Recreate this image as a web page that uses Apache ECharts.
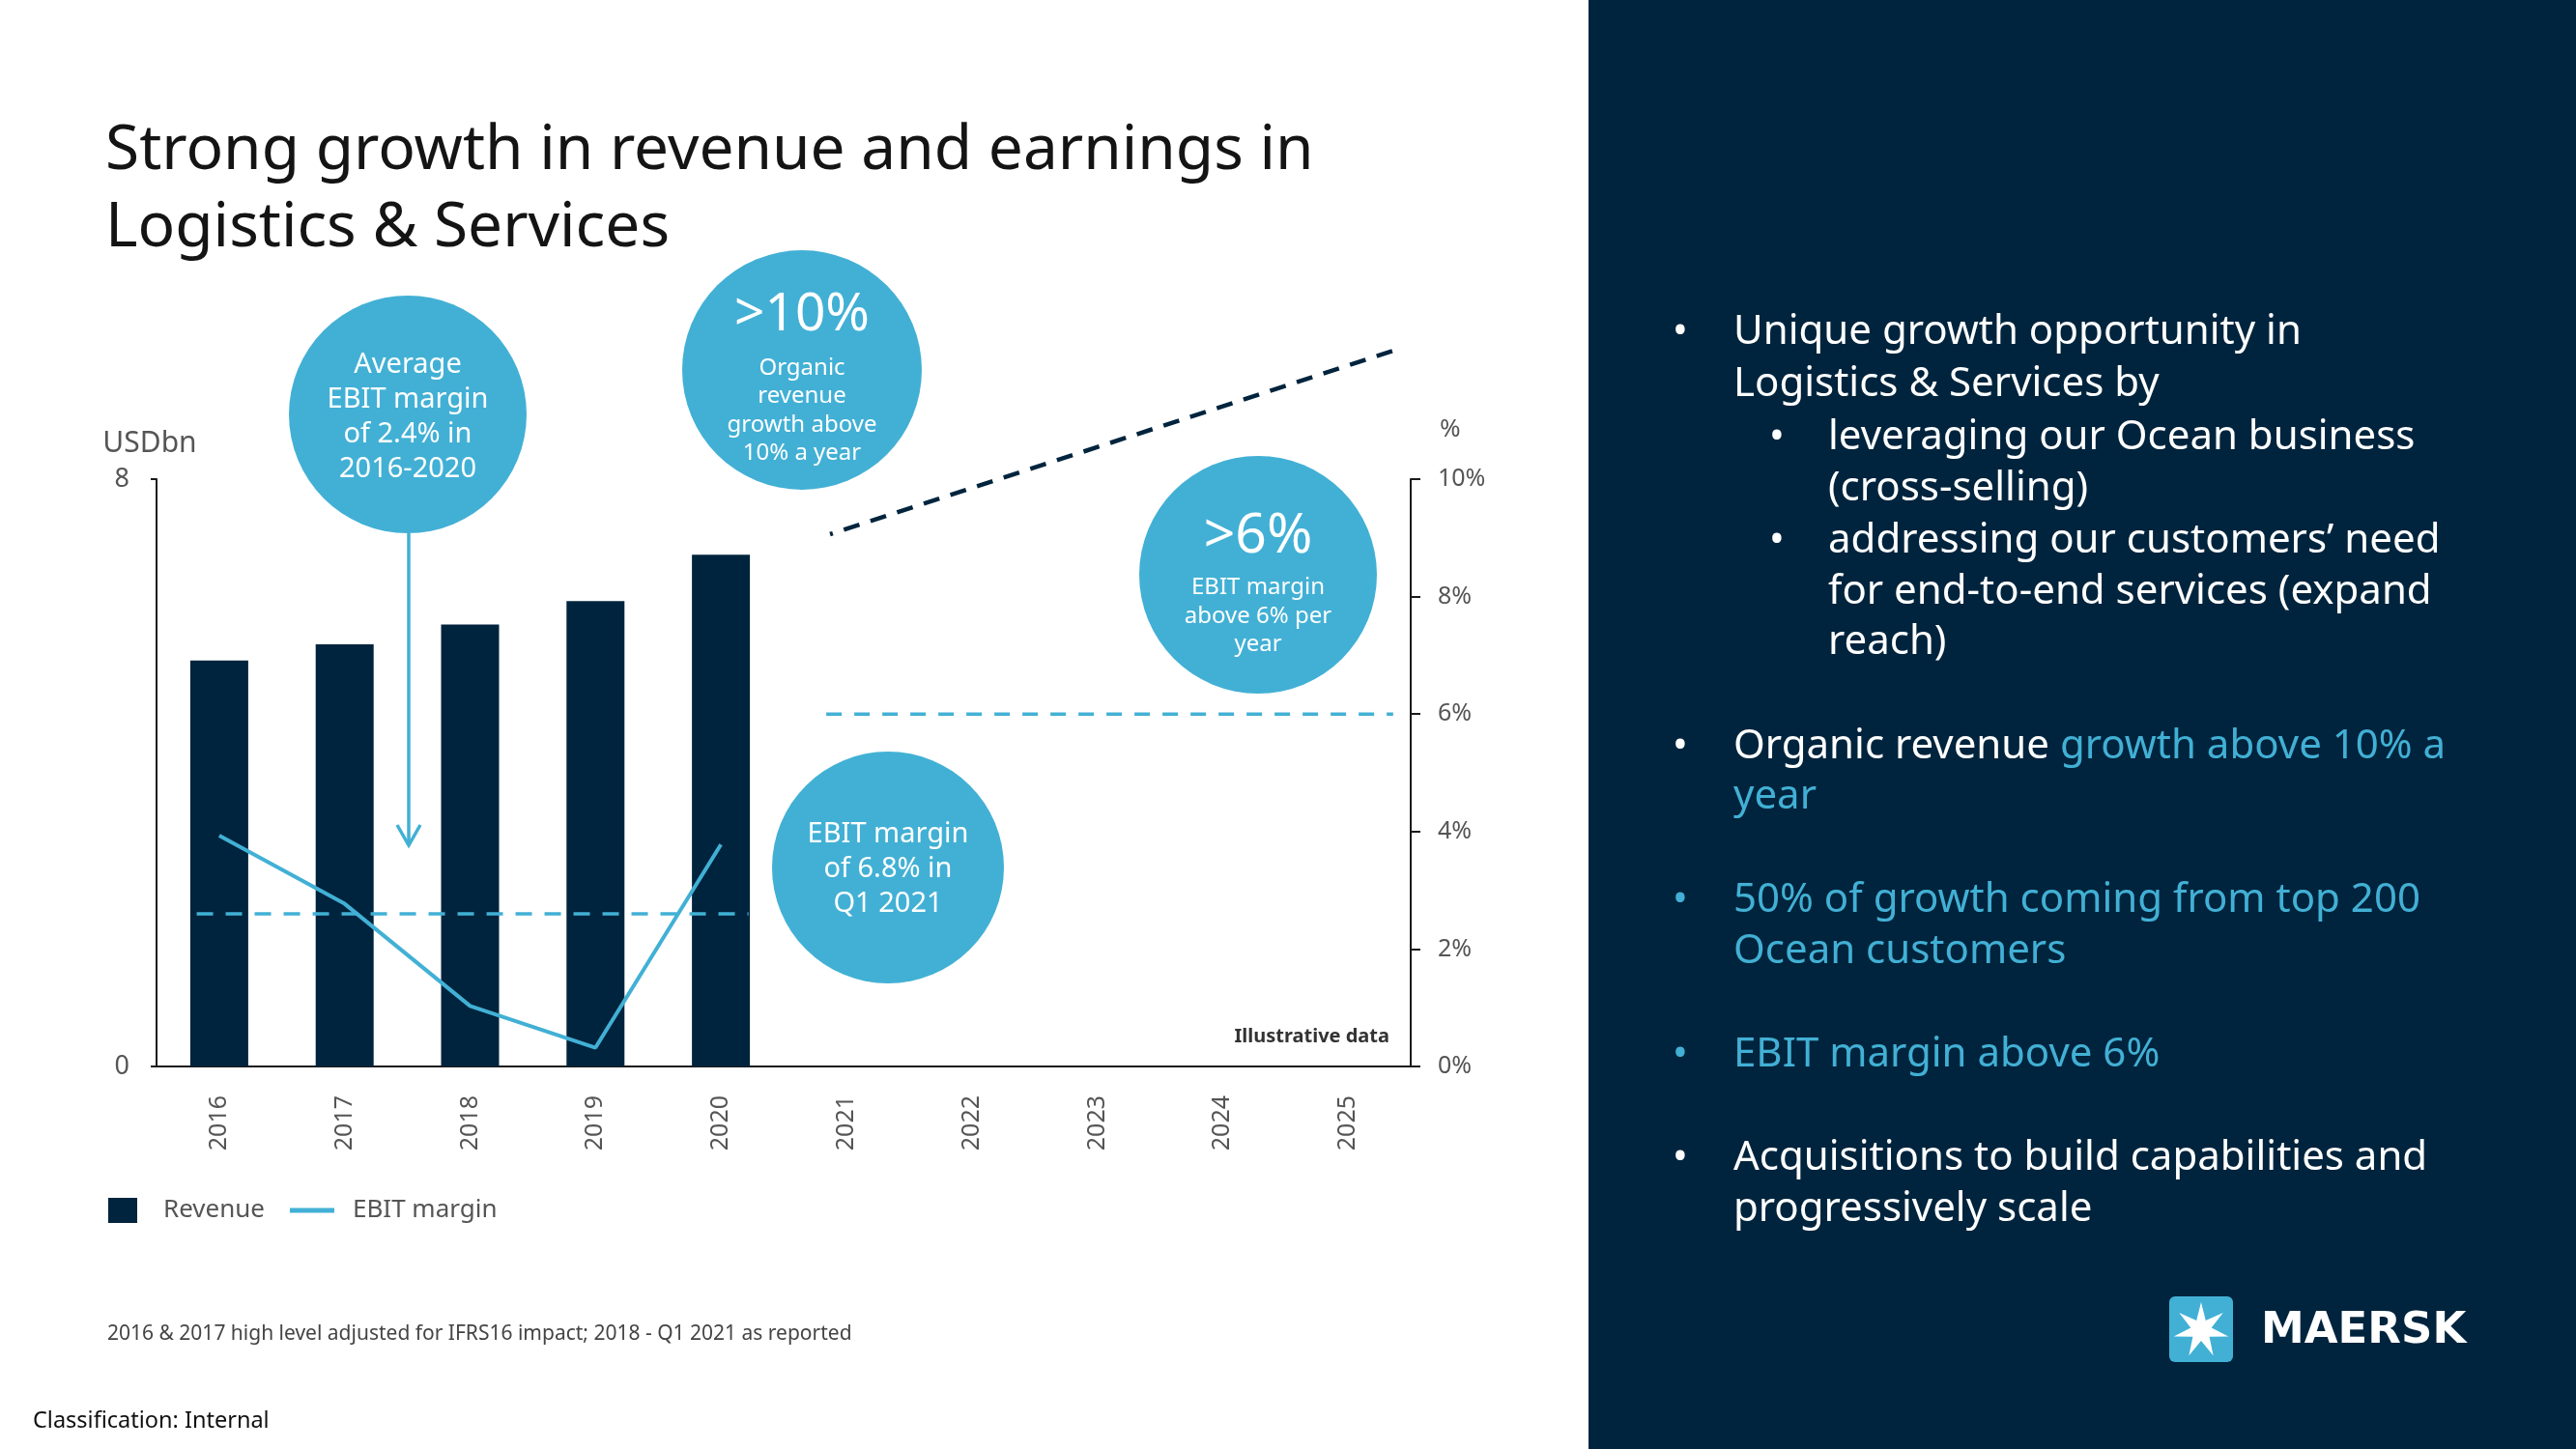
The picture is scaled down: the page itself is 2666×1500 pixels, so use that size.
<!DOCTYPE html>
<html><head><meta charset="utf-8">
<script src="https://cdn.jsdelivr.net/npm/echarts@6/dist/echarts.min.js"></script>
<style>html,body{margin:0;padding:0;background:#fff}#c{width:2666px;height:1500px}</style>
</head><body><div id="c"></div>
<script>
// ---- data ----
const years = ['2016','2017','2018','2019','2020','2021','2022','2023','2024','2025'];
const revenue = [5.53, 5.75, 6.02, 6.34, 6.97];          // USDbn
const ebitMargin = [3.93, 2.77, 1.03, 0.32, 3.78];       // %
const avgMarginLine = [[0.32, 2.6], [4.72, 2.6]];         // [x position on year scale, %]
const targetMarginLine = [[5.34, 6], [9.86, 6]];          // %
const revenueTrendLine = [[5.37, 7.25], [9.88, 9.76]];    // USDbn (illustrative)
const revenueAxisTicks = [0, 8];
const marginAxisTicks = [0, 2, 4, 6, 8, 10];

const NAVY = '#00243D', BLUE = '#42B0D5', GREY = '#555555';
const FF = '"Noto Sans", "Open Sans", sans-serif';

const chart = echarts.init(document.getElementById('c'), null, {renderer: 'canvas'});

// ---- annotations ----
const g = [];
g.push({type: 'rect', z: -10, shape: {x: 1644, y: 0, width: 1022, height: 1500}, style: {fill: NAVY}});
function bubble(cx, cy, r, parts) {
  g.push({type: 'circle', z: 5, shape: {cx: cx, cy: cy, r: r}, style: {fill: BLUE}});
  parts.forEach(p => g.push({type: 'text', z: 6, x: cx, y: p.y, style: {
    text: p.t, fill: '#fff', font: (p.fs) + 'px ' + FF, align: 'center', verticalAlign: 'middle', lineHeight: p.lh || p.fs * 1.2
  }}));
}
bubble(422, 429, 123, [{t: 'Average\nEBIT margin\nof 2.4% in\n2016-2020', y: 432, fs: 29, lh: 36}]);
bubble(830, 383, 124, [{t: '>10%', y: 326, fs: 55}, {t: 'Organic\nrevenue\ngrowth above\n10% a year', y: 425, fs: 24, lh: 29.5}]);
bubble(1302, 595, 123, [{t: '>6%', y: 556, fs: 57}, {t: 'EBIT margin\nabove 6% per\nyear', y: 638, fs: 24, lh: 29.5}]);
bubble(919, 898, 120, [{t: 'EBIT margin\nof 6.8% in\nQ1 2021', y: 900, fs: 29, lh: 36}]);
// arrow
g.push({type: 'line', z: 5, shape: {x1: 423, y1: 552, x2: 423, y2: 874}, style: {stroke: BLUE, lineWidth: 3.5}});
g.push({type: 'polyline', z: 5, shape: {points: [[411, 854], [423, 875], [435, 854]]}, style: {stroke: BLUE, lineWidth: 3.5, fill: null}});
// texts
g.push({type: 'text', x: 1438, y: 1073, style: {text: 'Illustrative data', fill: '#333', font: 'bold 20px ' + FF, align: 'right', verticalAlign: 'middle'}});
g.push({type: 'text', x: 111, y: 1381, style: {text: '2016 & 2017 high level adjusted for IFRS16 impact; 2018 - Q1 2021 as reported', fill: '#444', font: '21px ' + FF, align: 'left', verticalAlign: 'middle'}});
g.push({type: 'text', x: 34, y: 1471, style: {text: 'Classification: Internal', fill: '#111', font: '23.5px ' + FF, align: 'left', verticalAlign: 'middle'}});

// right panel bullets
const PF = '42px ' + FF;
const dy = 4;
const lines = [
  {b: 1731, x: 1794, y: 340, t: 'Unique growth opportunity in'},
  {x: 1794, y: 394, t: 'Logistics & Services by'},
  {b: 1831, x: 1892, y: 449, t: 'leveraging our Ocean business'},
  {x: 1892, y: 502, t: '(cross-selling)'},
  {b: 1831, x: 1892, y: 556, t: 'addressing our customers\u2019 need'},
  {x: 1892, y: 609, t: 'for end-to-end services (expand'},
  {x: 1892, y: 661, t: 'reach)'},
  {b: 1731, x: 1794, y: 769, t: 'Organic revenue {h|growth above 10% a}'},
  {x: 1794, y: 821, t: '{h|year}'},
  {b: 1731, bc: BLUE, x: 1794, y: 928, t: '{h|50% of growth coming from top 200}'},
  {x: 1794, y: 981, t: '{h|Ocean customers}'},
  {b: 1731, bc: BLUE, x: 1794, y: 1088, t: '{h|EBIT margin above 6%}'},
  {b: 1731, x: 1794, y: 1195, t: 'Acquisitions to build capabilities and'},
  {x: 1794, y: 1248, t: 'progressively scale'}
];
lines.forEach(l => {
  if (l.b) g.push({type: 'text', x: l.b, y: l.y + dy, style: {text: '\u2022', fill: l.bc || '#fff', font: PF, align: 'left', verticalAlign: 'middle'}});
  g.push({type: 'text', x: l.x, y: l.y + dy, style: {text: l.t, fill: '#fff', font: PF, align: 'left', verticalAlign: 'middle',
    rich: {h: {fill: BLUE, font: PF}}}});
});
// logo
g.push({type: 'rect', shape: {x: 2245, y: 1342, width: 66, height: 68, r: 6}, style: {fill: BLUE}});
(function () {
  const cx = 2278, cy = 1377, R = 29, r = 11, pts = [];
  for (let i = 0; i < 14; i++) {
    const a = -Math.PI / 2 + i * Math.PI / 7, rr = i % 2 ? r : R;
    pts.push([cx + rr * Math.cos(a), cy + rr * Math.sin(a)]);
  }
  g.push({type: 'polygon', shape: {points: pts}, style: {fill: '#fff'}});
})();
g.push({type: 'text', x: 2340, y: 1378, style: {text: 'MAERSK', fill: '#fff', font: 'bold 45px "DejaVu Sans", sans-serif', align: 'left', verticalAlign: 'middle'}});

const option = {
  backgroundColor: '#fff',
  animation: false,
  title: {
    text: 'Strong growth in revenue and earnings in\nLogistics & Services',
    left: 109, top: 117, padding: 0,
    textStyle: {fontFamily: FF, fontSize: 64, fontWeight: 'normal', color: '#141414', lineHeight: 80}
  },
  legend: {
    left: 107, top: 1235, itemWidth: 46, itemHeight: 26, itemGap: 26, symbolKeepAspect: true,
    textStyle: {fontFamily: FF, fontSize: 26, color: GREY, padding: [0, 0, 0, 14]},
    data: [
      {name: 'Revenue', icon: 'path://M0,0 L30,0 L30,26 L0,26 Z'},
      {name: 'EBIT margin', icon: 'path://M0,0 L46,0 L46,5 L0,5 Z', itemStyle: {color: BLUE}}
    ]
  },
  grid: {left: 162, right: 1206, top: 496, bottom: 396},
  xAxis: [
    {type: 'category', data: years, axisTick: {show: false},
      axisLine: {lineStyle: {color: '#1a1a1a', width: 2}},
      axisLabel: {rotate: 90, margin: 30, fontSize: 25, fontFamily: FF, color: GREY}},
    {type: 'value', min: 0, max: 10, show: false}
  ],
  yAxis: [
    {type: 'value', min: revenueAxisTicks[0], max: revenueAxisTicks[1], interval: revenueAxisTicks[1] - revenueAxisTicks[0],
      name: 'USDbn', nameGap: 22, nameTextStyle: {fontFamily: FF, fontSize: 30, color: GREY, align: 'center', padding: [0, 14, 0, 0]},
      splitLine: {show: false},
      axisLine: {show: true, lineStyle: {color: '#1a1a1a', width: 2}},
      axisTick: {show: true, length: 6, lineStyle: {color: '#1a1a1a', width: 2}},
      axisLabel: {margin: 28, fontSize: 27, fontFamily: FF, color: GREY}},
    {type: 'value', position: 'right', min: marginAxisTicks[0], max: marginAxisTicks[marginAxisTicks.length - 1], interval: marginAxisTicks[1] - marginAxisTicks[0],
      name: '%', nameGap: 38, nameTextStyle: {fontFamily: FF, fontSize: 26, color: GREY, align: 'left', padding: [0, 0, 0, 30]},
      splitLine: {show: false},
      axisLine: {show: true, lineStyle: {color: '#1a1a1a', width: 2}},
      axisTick: {show: true, length: 10, lineStyle: {color: '#1a1a1a', width: 2}},
      axisLabel: {margin: 28, fontSize: 25, fontFamily: FF, color: GREY, formatter: '{value}%'}}
  ],
  series: [
    {name: 'Revenue', type: 'bar', data: revenue, barWidth: 60, itemStyle: {color: NAVY}, z: 2},
    {name: 'EBIT margin', type: 'line', data: ebitMargin, yAxisIndex: 1, symbol: 'none',
      lineStyle: {color: BLUE, width: 4}, itemStyle: {color: BLUE}, z: 4},
    {name: 'avg', type: 'line', xAxisIndex: 1, yAxisIndex: 1, data: avgMarginLine, symbol: 'none',
      lineStyle: {color: BLUE, width: 3.5, type: [17, 13]}, z: 3},
    {name: 'target', type: 'line', xAxisIndex: 1, yAxisIndex: 1, data: targetMarginLine, symbol: 'none',
      lineStyle: {color: BLUE, width: 3.5, type: [16, 13]}, z: 3},
    {name: 'trend', type: 'line', xAxisIndex: 1, yAxisIndex: 0, data: revenueTrendLine, symbol: 'none', clip: false,
      lineStyle: {color: NAVY, width: 4.5, type: [17, 12], dashOffset: 14}, z: 3}
  ],
  graphic: {elements: g}
};
chart.setOption(option);
</script></body></html>
